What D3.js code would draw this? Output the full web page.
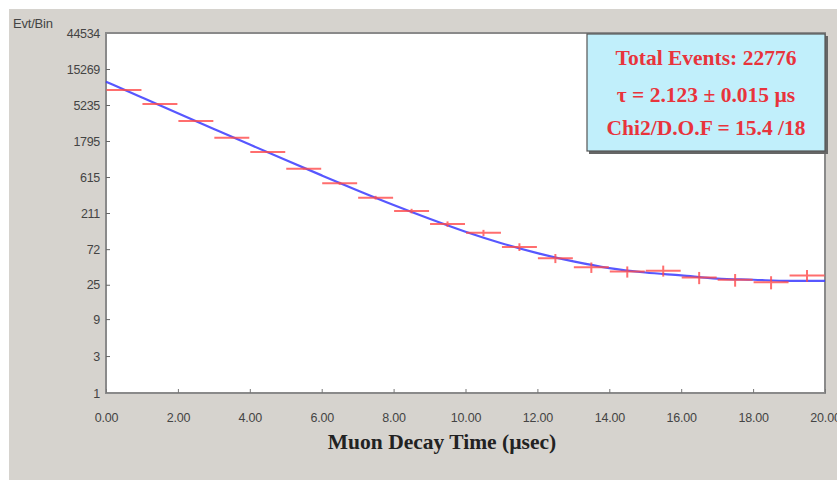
<!DOCTYPE html>
<html><head><meta charset="utf-8">
<script src="https://cdn.jsdelivr.net/npm/d3@7"></script>
<style>body{margin:0;background:#fff}svg{display:block}</style>
</head><body><svg id="c" width="837" height="480"></svg>
<script>
// ---- data ----
const binStarts = [0,1,2,3,4,5,6,7,8,9,10,11,12,13,14,15,16,17,18,19];
const counts    = [8182,5393,3257,1981,1294,787,510,333,224,152,117,77,55,42,37,38,31,29,27,33];
const fitT      = [0,1,2,3,4,5,6,7,8,9,10,11,12,13,14,15,16,17,18,19,20];
const fitN      = [10477,6551,4100,2570,1614,1018,646,413,268,178,121,86,64,50,41,36,33,30,29,28,28];
const xTicks    = [0,2,4,6,8,10,12,14,16,18,20];
const yTicks    = [1,3,9,25,72,211,615,1795,5235,15269,44534];
const legendLines = ["Total Events: 22776","τ = 2.123 ± 0.015 µs","Chi2/D.O.F = 15.4 /18"];
const xTitle = "Muon Decay Time (µsec)";
const yTitle = "Evt/Bin";

const svg = d3.select("#c");
const W = 837, H = 480;
const x = d3.scaleLinear().domain([0,20]).range([106,825]);
const y = d3.scaleLog().domain([1,44534]).range([393,33]);

// background panel
svg.append("rect").attr("x",9).attr("y",9).attr("width",W-9).attr("height",H-9).attr("fill","#d6d3ce");
// plot area
svg.append("rect").attr("x",106).attr("y",33).attr("width",719).attr("height",360)
  .attr("fill","#fff").attr("stroke","#8a8a8a").attr("stroke-width",2);

// axes
const ax = svg.append("g").attr("transform","translate(0,393)")
  .call(d3.axisBottom(x).tickValues(xTicks).tickFormat(d=>d3.format(".2f")(d)).tickSize(-4).tickPadding(20));
ax.select(".domain").remove();
ax.selectAll("line").attr("stroke","#777");
ax.selectAll("text").attr("font-family","Liberation Sans, Arial").attr("font-size",12.5).attr("fill","#444")
  .attr("letter-spacing",-0.2);

const ay = svg.append("g").attr("transform","translate(106,0)")
  .call(d3.axisLeft(y).tickValues(yTicks).tickFormat(d=>String(d)).tickSize(-4).tickPadding(6));
ay.select(".domain").remove();
ay.selectAll("line").attr("stroke","#666").attr("opacity",(d)=> (d===1||d===44534)?0:1);
ay.selectAll("text").attr("font-family","Liberation Sans, Arial").attr("font-size",12.5).attr("fill","#444")
  .attr("letter-spacing",-0.3);

svg.append("text").attr("x",13).attr("y",28).text(yTitle)
  .attr("font-family","Liberation Sans, Arial").attr("font-size",13).attr("fill","#444").attr("letter-spacing",-0.2);
svg.append("text").attr("x",442).attr("y",449).attr("text-anchor","middle").text(xTitle)
  .attr("font-family","Liberation Serif, Times New Roman").attr("font-weight","bold").attr("font-size",21.5).attr("fill","#222");

// fit curve
svg.append("path").datum(fitT.map((t,i)=>[t,fitN[i]]))
  .attr("d", d3.line().x(d=>x(d[0])).y(d=>y(d[1])).curve(d3.curveMonotoneX))
  .attr("fill","none").attr("stroke","#3a3aff").attr("stroke-width",2.2).attr("opacity",0.85);

// data bins
const g = svg.append("g").attr("stroke","#ff4a4a").attr("stroke-width",2).attr("opacity",0.8);
binStarts.forEach((s,i)=>{
  const v = counts[i];
  g.append("line").attr("x1",x(s)+0.5).attr("x2",x(s+1)-0.5).attr("y1",y(v)).attr("y2",y(v));
  const e = Math.sqrt(v);
  g.append("line").attr("x1",x(s+0.5)).attr("x2",x(s+0.5)).attr("y1",y(v+e)).attr("y2",y(v-e));
});

// legend box
svg.append("rect").attr("x",589).attr("y",36).attr("width",239).attr("height",118).attr("fill","#666");
svg.append("rect").attr("x",587).attr("y",34).attr("width",238).attr("height",117)
  .attr("fill","#c1effb").attr("stroke","#555").attr("stroke-width",1.2);
const lys = [65,102,135];
legendLines.forEach((t,i)=>{
  svg.append("text").attr("x",706).attr("y",lys[i]).attr("text-anchor","middle").text(t)
    .attr("font-family","Liberation Serif, Times New Roman").attr("font-weight","bold")
    .attr("font-size",21.5).attr("fill","#e8343c");
});
</script></body></html>
